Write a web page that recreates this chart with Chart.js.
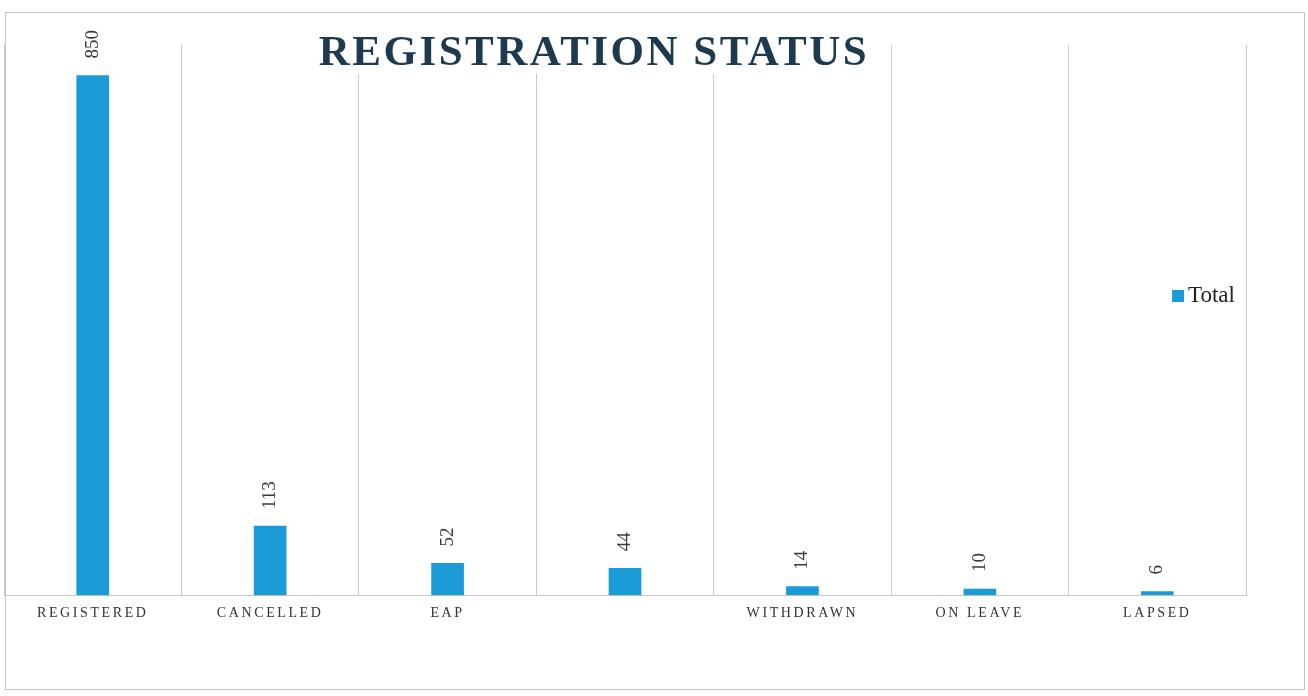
<!DOCTYPE html>
<html>
<head>
<meta charset="utf-8">
<title>Registration Status</title>
<script src="https://cdn.jsdelivr.net/npm/chart.js@4"></script>
<style>
  html, body { margin: 0; padding: 0; background: #fff; }
  #wrap { width: 1308px; height: 696px; position: relative; }
</style>
</head>
<body>
<div id="wrap"><canvas id="statuschart"></canvas></div>
<script>
// chart data
const categories = ["REGISTERED", "CANCELLED", "EAP", "", "WITHDRAWN", "ON LEAVE", "LAPSED"];
const totals = [850, 113, 52, 44, 14, 10, 6];
const seriesName = "Total";
const chartTitle = "REGISTRATION STATUS";

const barColor = "#1b9ad8";
const serif = "'Liberation Serif', 'DejaVu Serif', serif";

// frame, title box and letter spacing for tick labels
const framePlugin = {
    id: "frame",
    beforeDraw(chart) {
        const ctx = chart.ctx;
        ctx.save();
        ctx.fillStyle = "#fff";
        ctx.fillRect(0, 0, chart.width, chart.height);
        ctx.strokeStyle = "#c4c4c4";
        ctx.lineWidth = 1;
        ctx.strokeRect(5.5, 12.5, 1299, 677);
        ctx.restore();
        ctx.letterSpacing = "2.6px";
    },
    afterDraw(chart) {
        const ctx = chart.ctx;
        ctx.save();
        // title sits on top of the plot, white box behind it
        ctx.fillStyle = "#fff";
        ctx.fillRect(308, 30, 572, 44);
        ctx.font = "bold 43px " + serif;
        ctx.letterSpacing = "2.5px";
        ctx.fillStyle = "#1d3a4f";
        ctx.textAlign = "center";
        ctx.textBaseline = "alphabetic";
        ctx.fillText(chartTitle, 594, 65);

        // legend inside the last column
        ctx.letterSpacing = "0px";
        const ds = chart.data.datasets[0];
        ctx.fillStyle = ds.backgroundColor;
        ctx.fillRect(1172, 290, 12, 12);
        ctx.font = "23px " + serif;
        ctx.fillStyle = "#222";
        ctx.textAlign = "left";
        ctx.textBaseline = "middle";
        ctx.fillText(ds.label, 1188, 296);
        ctx.restore();
    }
};

// rotated value labels above each bar
const valueLabels = {
    id: "valueLabels",
    afterDatasetsDraw(chart) {
        const ctx = chart.ctx;
        const meta = chart.getDatasetMeta(0);
        ctx.save();
        ctx.letterSpacing = "0px";
        ctx.font = "19px " + serif;
        ctx.fillStyle = "#3a3a3a";
        ctx.textAlign = "left";
        ctx.textBaseline = "middle";
        meta.data.forEach((bar, i) => {
            ctx.save();
            ctx.translate(bar.x, bar.y - 17);
            ctx.rotate(-Math.PI / 2);
            ctx.fillText(String(totals[i]), 0, 0);
            ctx.restore();
        });
        ctx.restore();
    }
};

const ctx = document.getElementById("statuschart").getContext("2d");

new Chart(ctx, {
    type: "bar",
    data: {
        labels: categories,
        datasets: [{
            label: seriesName,
            data: totals,
            backgroundColor: barColor,
            borderWidth: 0,
            barThickness: 32
        }]
    },
    options: {
        responsive: true,
        maintainAspectRatio: false,
        animation: false,
        layout: {
            padding: { left: 4, right: 62, top: 45, bottom: 64 }
        },
        plugins: {
            legend: { display: false },
            tooltip: { enabled: false },
            title: { display: false }
        },
        scales: {
            x: {
                grid: {
                    display: true,
                    offset: true,
                    color: "#c8c8c8",
                    drawTicks: false
                },
                border: { display: true, color: "#c8c8c8" },
                ticks: {
                    color: "#333",
                    padding: 10,
                    maxRotation: 0,
                    autoSkip: false,
                    font: { family: serif, size: 14 }
                }
            },
            y: {
                display: false,
                min: 0,
                max: 900
            }
        }
    },
    plugins: [framePlugin, valueLabels]
});
</script>
</body>
</html>
